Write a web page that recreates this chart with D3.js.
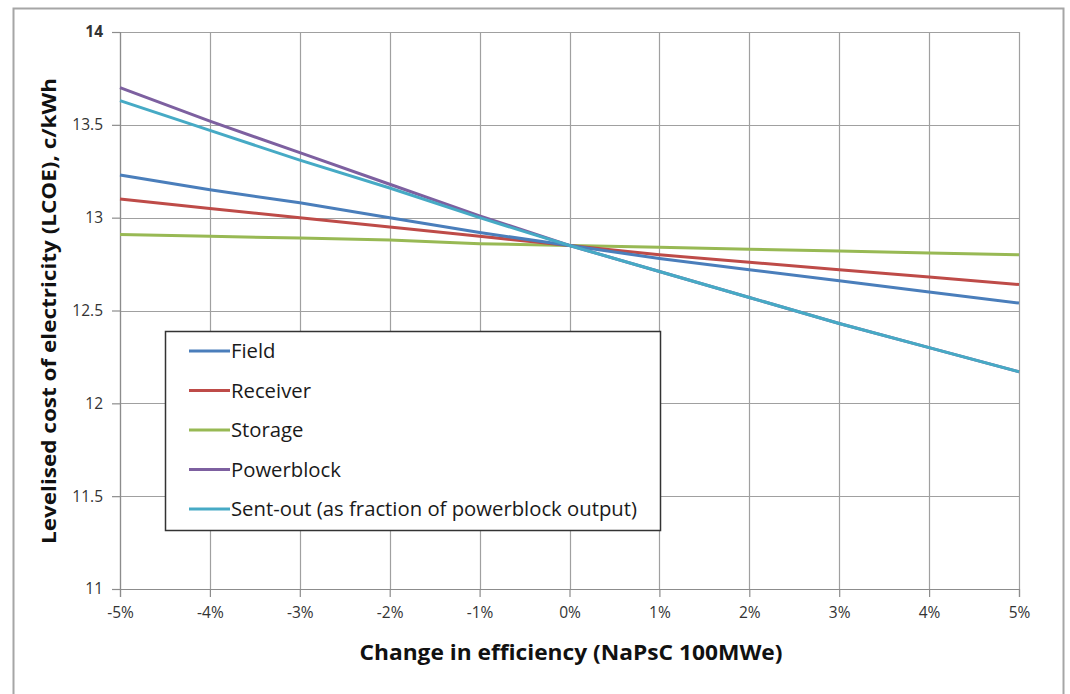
<!DOCTYPE html>
<html>
<head>
<meta charset="utf-8">
<script src="https://cdn.jsdelivr.net/npm/d3@7"></script>
<style>
  body { margin: 0; background: #fff; }
  text { font-family: "Open Sans", "Liberation Sans", sans-serif; }
  .tick text { fill: #333; font-size: 15.5px; }
</style>
</head>
<body>
<svg id="chart"></svg>
<script>
// change in efficiency (%)
var changes = [-5, -4, -3, -2, -1, 0, 1, 2, 3, 4, 5];
var seriesNames = ["Field", "Receiver", "Storage", "Powerblock", "Sent-out (as fraction of powerblock output)"];
var field = [13.23, 13.15, 13.08, 13.00, 12.92, 12.85, 12.78, 12.72, 12.66, 12.60, 12.54];
var receiver = [13.10, 13.05, 13.00, 12.95, 12.90, 12.85, 12.80, 12.76, 12.72, 12.68, 12.64];
var storage = [12.91, 12.90, 12.89, 12.88, 12.86, 12.85, 12.84, 12.83, 12.82, 12.81, 12.80];
var powerblock = [13.70, 13.52, 13.35, 13.18, 13.01, 12.85, 12.71, 12.57, 12.43, 12.30, 12.17];
var sentOut = [13.63, 13.47, 13.31, 13.16, 13.00, 12.85, 12.71, 12.57, 12.43, 12.30, 12.17];
var yTicks = [11, 11.5, 12, 12.5, 13, 13.5, 14];

var colors = ["#4a7ebb", "#be4b48", "#98b954", "#7d60a0", "#46aac5"];

var screen = { width: 1070, height: 694 };
var margins = { top: 32, left: 120, right: 51, bottom: 105 };
var graph = {
  width: screen.width - margins.left - margins.right,
  height: screen.height - margins.top - margins.bottom
};

var svg = d3.select("#chart").attr("width", screen.width).attr("height", screen.height);

// outer frame
svg.append("rect")
  .attr("x", 13.5).attr("y", 8.5)
  .attr("width", 1050).attr("height", 700)
  .attr("fill", "none").attr("stroke", "#a6a6a6").attr("stroke-width", 2);

var xScale = d3.scaleLinear().domain([-5, 5]).range([0, graph.width]);
var yScale = d3.scaleLinear().domain([11, 14]).range([graph.height, 0]);

var g = svg.append("g")
  .attr("transform", "translate(" + margins.left + "," + margins.top + ")");

// gridlines
g.append("g").selectAll("line").data(yTicks).enter().append("line")
  .attr("x1", 0).attr("x2", graph.width)
  .attr("y1", function (d) { return Math.round(yScale(d)) + 0.5; })
  .attr("y2", function (d) { return Math.round(yScale(d)) + 0.5; })
  .attr("stroke", "#a0a0a0").attr("stroke-width", 1.2);
g.append("g").selectAll("line").data(changes).enter().append("line")
  .attr("y1", 0).attr("y2", graph.height)
  .attr("x1", function (d) { return Math.round(xScale(d)) + 0.5; })
  .attr("x2", function (d) { return Math.round(xScale(d)) + 0.5; })
  .attr("stroke", "#a0a0a0").attr("stroke-width", 1.2);

// axes
var xAxis = d3.axisBottom(xScale).tickValues(changes)
  .tickFormat(function (d) { return d + "%"; }).tickSize(8).tickPadding(10);
var yAxis = d3.axisLeft(yScale).tickValues(yTicks)
  .tickFormat(function (d) { return d; }).tickSize(8).tickPadding(9);

var xg = g.append("g").attr("transform", "translate(0," + graph.height + ")").call(xAxis);
var yg = g.append("g").call(yAxis);
[xg, yg].forEach(function (a) {
  a.attr("font-size", null);
  a.select(".domain").attr("stroke", "#8c8c8c").attr("stroke-width", 1.2);
  a.selectAll(".tick line").attr("stroke", "#8c8c8c").attr("stroke-width", 1.2);
});
yg.selectAll(".tick text").filter(function (d) { return d === 14; })
  .attr("fill", "#1f3864").attr("font-weight", "bold");

// lines
var allSeries = [field, receiver, storage, powerblock, sentOut];
var line = d3.line()
  .x(function (d, i) { return xScale(changes[i]); })
  .y(function (d) { return yScale(d); });

var drawOrder = [2, 1, 0, 3, 4];
drawOrder.forEach(function (k) {
  g.append("path")
    .datum(allSeries[k])
    .attr("d", line)
    .attr("fill", "none")
    .attr("stroke", colors[k])
    .attr("stroke-width", 3);
});

// legend
var legend = svg.append("g").attr("transform", "translate(165,331)");
legend.append("rect")
  .attr("x", 0.5).attr("y", 0.5).attr("width", 495).attr("height", 199)
  .attr("fill", "#fff").attr("stroke", "#333").attr("stroke-width", 1.5);
var item = legend.selectAll(".item").data(seriesNames).enter().append("g")
  .attr("transform", function (d, i) { return "translate(0," + (20 + i * 39.5) + ")"; });
item.append("line")
  .attr("x1", 24).attr("x2", 65).attr("y1", 0).attr("y2", 0)
  .attr("stroke", function (d, i) { return colors[i]; })
  .attr("stroke-width", 3);
item.append("text")
  .attr("x", 66).attr("y", 7)
  .attr("font-size", "20.3px").attr("fill", "#1a1a1a")
  .text(function (d) { return d; });

// axis titles
svg.append("text")
  .attr("text-anchor", "middle")
  .attr("x", 571)
  .attr("y", 660)
  .attr("font-size", "21px").attr("font-weight", "bold").attr("fill", "#111")
  .attr("textLength", 423).attr("lengthAdjust", "spacingAndGlyphs")
  .text("Change in efficiency (NaPsC 100MWe)");

svg.append("g")
  .attr("transform", "translate(56,311)")
  .append("text")
  .attr("text-anchor", "middle")
  .attr("transform", "rotate(-90)")
  .attr("font-size", "19px").attr("font-weight", "bold").attr("fill", "#111")
  .attr("textLength", 466).attr("lengthAdjust", "spacingAndGlyphs")
  .text("Levelised cost of electricity (LCOE), c/kWh");
</script>
</body>
</html>
